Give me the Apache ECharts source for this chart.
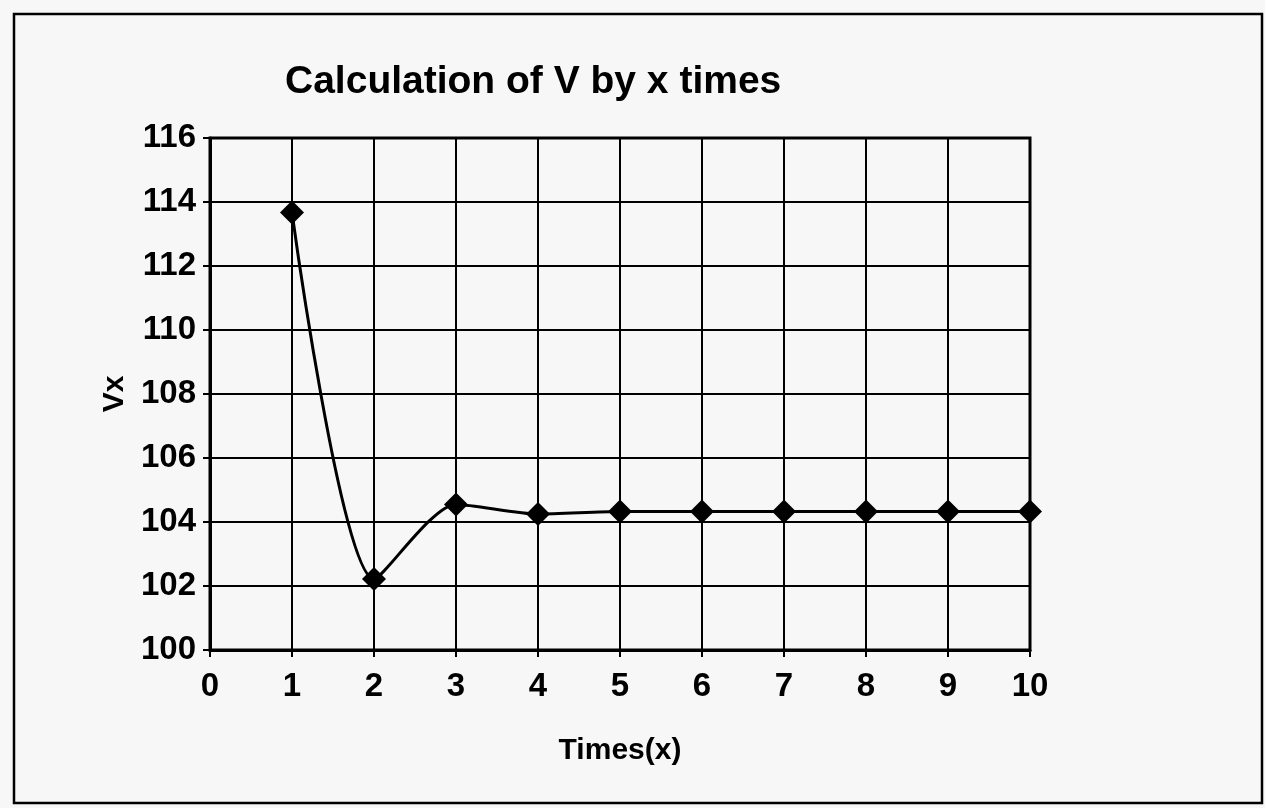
<!DOCTYPE html>
<html>
<head>
<meta charset="utf-8">
<script src="https://cdn.jsdelivr.net/npm/echarts@6/dist/echarts.min.js"></script>
<style>
html,body{margin:0;padding:0;background:#f7f7f7;}
#chart{width:1265px;height:808px;}
</style>
</head>
<body>
<div id="chart"></div>
<script>
const titleText = "Calculation of V by x times";
const xAxisName = "Times(x)";
const yAxisName = "Vx";
const times = [1, 2, 3, 4, 5, 6, 7, 8, 9, 10];
const vx = [113.67, 102.22, 104.55, 104.25, 104.33, 104.33, 104.33, 104.33, 104.33, 104.33];

const chart = echarts.init(document.getElementById('chart'));
const font = '"Liberation Sans", Arial, sans-serif';
chart.setOption({
  backgroundColor: '#f7f7f7',
  animation: false,
  graphic: [{
    type: 'rect',
    shape: {x: 14, y: 14, width: 1248, height: 789},
    style: {fill: 'none', stroke: '#000', lineWidth: 2.5},
    silent: true
  }],
  title: {
    text: titleText,
    left: 280, top: 58,
    textStyle: {fontFamily: font, fontWeight: 'bold', fontSize: 39, color: '#000'}
  },
  grid: {
    left: 210, right: 235, top: 138, bottom: 158,
    show: true, borderColor: '#000', borderWidth: 3, backgroundColor: 'transparent'
  },
  xAxis: {
    type: 'value', min: 0, max: 10, interval: 1,
    name: xAxisName, nameLocation: 'middle', nameGap: 86,
    nameTextStyle: {fontFamily: font, fontWeight: 'bold', fontSize: 30, color: '#000'},
    axisLine: {show: true, onZero: false, lineStyle: {color: '#000', width: 3}},
    axisTick: {show: true, length: 7, lineStyle: {color: '#000', width: 2}},
    axisLabel: {margin: 20, fontFamily: font, fontWeight: 'bold', fontSize: 33, color: '#000'},
    splitLine: {show: true, lineStyle: {color: '#000', width: 2}}
  },
  yAxis: {
    type: 'value', min: 100, max: 116, interval: 2,
    name: yAxisName, nameLocation: 'middle', nameGap: 70, nameRotate: 90,
    nameTextStyle: {fontFamily: font, fontWeight: 'bold', fontSize: 30, color: '#000'},
    axisLine: {show: true, onZero: false, lineStyle: {color: '#000', width: 3}},
    axisTick: {show: true, length: 7, lineStyle: {color: '#000', width: 2}},
    axisLabel: {margin: 14, fontFamily: font, fontWeight: 'bold', fontSize: 33, color: '#000'},
    splitLine: {show: true, lineStyle: {color: '#000', width: 2}}
  },
  series: [{
    type: 'line',
    data: times.map((t, i) => [t, vx[i]]),
    smooth: 0.25,
    symbol: 'diamond',
    symbolSize: 24,
    itemStyle: {color: '#000'},
    lineStyle: {color: '#000', width: 3}
  }]
});
</script>
</body>
</html>
